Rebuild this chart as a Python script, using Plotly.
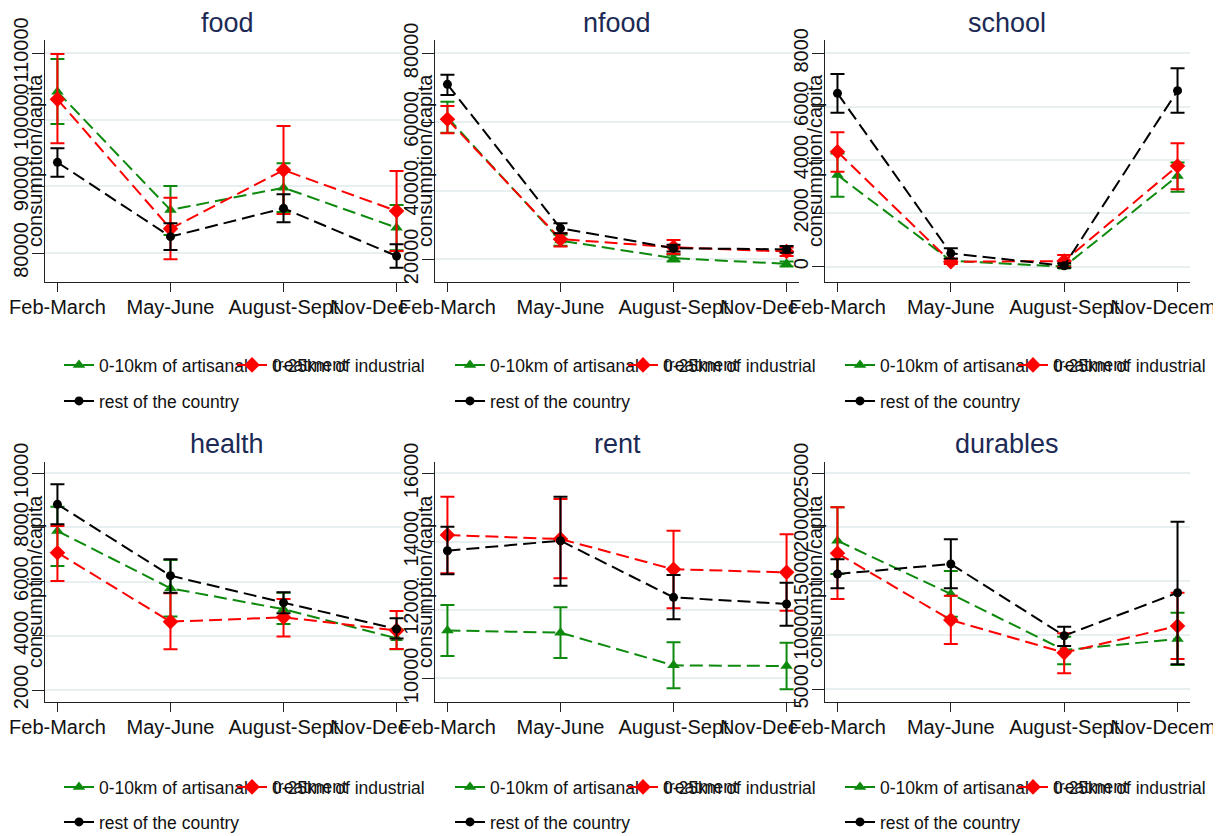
import plotly.graph_objects as go

# ---------------- data ----------------
periods = ["Feb-March", "May-June", "August-Sept", "Nov-December"]
xpos = [0, 1, 2, 3]
panel_titles = ["food", "nfood", "school", "health", "rent", "durables"]
series_names = ["0-10km of artisanal", "0-25km of industrial", "rest of the country"]
extra_label = "treatment"
ytitle = "consumption/capita"

# food
food_green = [104200, 86450, 89800, 83800]
food_green_hi = [109100, 90050, 93450, 87200]
food_green_lo = [99350, 82700, 86150, 80400]
food_red = [103050, 83650, 92450, 86300]
food_red_hi = [109850, 88300, 99050, 92300]
food_red_lo = [96450, 79050, 85850, 80300]
food_black = [93600, 82450, 86700, 79550]
food_black_hi = [95700, 84450, 88800, 81300]
food_black_lo = [91450, 80450, 84600, 77800]
food_ticks = [80000, 90000, 100000, 110000]

# nfood
nfood_green = [61380, 25470, 20350, 18690]
nfood_green_hi = [65920, 27130, 21310, 19380]
nfood_green_lo = [56900, 23930, 19380, 17900]
nfood_red = [60795, 25875, 23550, 22270]
nfood_red_hi = [64660, 27620, 25670, 23430]
nfood_red_lo = [56720, 23720, 21600, 21000]
nfood_black = [70980, 29075, 23255, 22900]
nfood_black_hi = [73770, 30530, 24220, 23900]
nfood_black_lo = [67870, 27620, 22270, 21900]
nfood_ticks = [20000, 40000, 60000, 80000]

# school
school_green = [3435, 225, 0, 3400]
school_green_hi = [4245, 285, 40, 3910]
school_green_lo = [2625, 165, -40, 2810]
school_red = [4310, 185, 210, 3775]
school_red_hi = [5040, 275, 435, 4625]
school_red_lo = [3560, 100, 0, 2900]
school_black = [6500, 500, 35, 6600]
school_black_hi = [7225, 690, 125, 7440]
school_black_lo = [5775, 310, -40, 5775]
school_ticks = [0, 2000, 4000, 6000, 8000]

# health
health_green = [7871, 5756, 4982, 3911]
health_green_hi = [8768, 6800, 5594, 4244]
health_green_lo = [6580, 4710, 4440, 3506]
health_red = [7070, 4524, 4686, 4200]
health_red_hi = [8055, 5572, 5362, 4919]
health_red_lo = [6026, 3506, 3971, 3517]
health_black = [8856, 6221, 5226, 4250]
health_black_hi = [9594, 6827, 5609, 4650]
health_black_lo = [8118, 5594, 4834, 3900]
health_ticks = [2000, 4000, 6000, 8000, 10000]

# rent
rent_green = [11400, 11335, 10380, 10360]
rent_green_hi = [12145, 12078, 11053, 11041]
rent_green_lo = [10652, 10594, 9707, 9678]
rent_red = [14194, 14077, 13190, 13102]
rent_red_hi = [15316, 15248, 14320, 14214]
rent_red_lo = [13073, 12927, 12048, 11979]
rent_black = [13735, 14027, 12370, 12175]
rent_black_hi = [14437, 15316, 13023, 12798]
rent_black_lo = [13044, 12710, 11727, 11540]
rent_ticks = [10000, 12000, 14000, 16000]

# durables
durables_green = [18760, 13823, 8637, 9656]
durables_green_hi = [21850, 15953, 9870, 12092]
durables_green_lo = [15675, 11721, 7313, 7248]
durables_red = [17592, 11415, 8390, 10860]
durables_red_hi = [21850, 13666, 10184, 13944]
durables_red_lo = [13360, 9193, 6480, 7804]
durables_black = [15675, 16601, 9963, 13944]
durables_black_hi = [17036, 18889, 10801, 20519]
durables_black_lo = [14351, 14351, 9008, 7313]
durables_ticks = [5000, 10000, 15000, 20000, 25000]

panel_data = {
    "food": [(food_green, food_green_hi, food_green_lo), (food_red, food_red_hi, food_red_lo),
             (food_black, food_black_hi, food_black_lo), food_ticks],
    "nfood": [(nfood_green, nfood_green_hi, nfood_green_lo), (nfood_red, nfood_red_hi, nfood_red_lo),
              (nfood_black, nfood_black_hi, nfood_black_lo), nfood_ticks],
    "school": [(school_green, school_green_hi, school_green_lo), (school_red, school_red_hi, school_red_lo),
               (school_black, school_black_hi, school_black_lo), school_ticks],
    "health": [(health_green, health_green_hi, health_green_lo), (health_red, health_red_hi, health_red_lo),
               (health_black, health_black_hi, health_black_lo), health_ticks],
    "rent": [(rent_green, rent_green_hi, rent_green_lo), (rent_red, rent_red_hi, rent_red_lo),
             (rent_black, rent_black_hi, rent_black_lo), rent_ticks],
    "durables": [(durables_green, durables_green_hi, durables_green_lo),
                 (durables_red, durables_red_hi, durables_red_lo),
                 (durables_black, durables_black_hi, durables_black_lo), durables_ticks],
}

# ---------------- styling / layout geometry ----------------
PAGE_W, PAGE_H = 1221, 836
OFF = 8  # default page body margin
W, H = PAGE_W - OFF, PAGE_H - OFF
FONT = "Liberation Sans, Arial, sans-serif"
colors = ["#0d8a0d", "#ff0000", "#000000"]
symbols = ["triangle-up", "diamond", "circle"]
msizes = [11, 12, 9]

col_px = [(45, 409), (435, 799), (825, 1190)]
row_px = [(40, 282), (462, 702)]
yranges = {
    "food": [75650, 111950],
    "nfood": [13400, 83900],
    "school": [-575, 8500],
    "health": [1557, 10418],
    "rent": [9307, 16331],
    "durables": [3824, 26046],
}
legend_rows = [(365, 401), (787, 822)]
feb_px = [57, 448, 838]


def fx(p):
    return (p - OFF) / W


def fy(p):
    return 1 - (p - OFF) / H


fig = go.Figure()
annotations = []
layout_extra = {}

for i, name in enumerate(panel_titles):
    r, c = divmod(i, 3)
    green, red, black, ticks = panel_data[name]
    ax = "" if i == 0 else str(i + 1)
    leg_ids = []
    for k in range(3):
        n = 3 * i + k + 1
        leg_ids.append("legend" if n == 1 else f"legend{n}")
    for k, (vals, hi, lo) in enumerate([green, red, black]):
        fig.add_trace(go.Scatter(
            x=xpos, y=vals, name=series_names[k],
            mode="lines+markers",
            line=dict(color=colors[k], width=2, dash="13px,6px"),
            marker=dict(symbol=symbols[k], size=msizes[k], color=colors[k]),
            error_y=dict(type="data", symmetric=False,
                         array=[h - v for h, v in zip(hi, vals)],
                         arrayminus=[v - l for v, l in zip(vals, lo)],
                         color=colors[k], thickness=2, width=7),
            xaxis="x" + ax, yaxis="y" + ax,
            legend=leg_ids[k],
        ))
    x0, x1 = col_px[c]
    y0, y1 = row_px[r]
    ticktext = list(periods)
    if c < 2:
        ticktext[3] = "Nov-Dec" + "\u00a0" * 10
    layout_extra["xaxis" + ax] = dict(
        domain=[fx(x0), fx(x1)], range=[-0.11, 3.11], anchor="y" + ax,
        tickvals=xpos, ticktext=ticktext, tickangle=0, automargin=False,
        ticklabeloverflow="allow", ticklabelstandoff=-2,
        showgrid=False, zeroline=False,
        showline=True, linecolor="#222", linewidth=1.3,
        ticks="outside", ticklen=9, tickwidth=1.3, tickcolor="#222",
        tickfont=dict(family=FONT, size=20, color="#111"),
    )
    layout_extra["yaxis" + ax] = dict(
        domain=[fy(y1), fy(y0)], range=yranges[name], anchor="x" + ax,
        tickvals=ticks, tickformat="d", tickangle=-90, automargin=False,
        ticklabeloverflow="allow", ticklabelstandoff=-4,
        showgrid=True, gridcolor="#e8eff1", gridwidth=2, zeroline=False,
        showline=True, linecolor="#222", linewidth=1.3,
        ticks="outside", ticklen=12, tickwidth=1.3, tickcolor="#222",
        tickfont=dict(family=FONT, size=20, color="#111"),
    )
    # panel title
    annotations.append(dict(
        text=name, x=fx((x0 + x1) / 2), y=fy(23 if r == 0 else 444),
        xref="paper", yref="paper", xanchor="center", yanchor="middle",
        showarrow=False, font=dict(family=FONT, size=27, color="#1c2a55"),
    ))
    # y-axis title
    annotations.append(dict(
        text=ytitle, textangle=-90, x=fx(x0 - 10), y=fy((y0 + y1) / 2),
        xref="paper", yref="paper", xanchor="center", yanchor="middle",
        showarrow=False, font=dict(family=FONT, size=20, color="#111"),
    ))
    # legends
    row1, row2 = legend_rows[r]
    lx = feb_px[c] + 2
    legpos = [(lx, row1), (lx + 173, row1), (lx, row2)]
    for k in range(3):
        px_, py_ = legpos[k]
        layout_extra[leg_ids[k]] = dict(
            x=fx(px_), y=fy(py_), xanchor="left", yanchor="middle",
            xref="paper", yref="paper", bgcolor="rgba(0,0,0,0)",
            borderwidth=0, font=dict(family=FONT, size=17.5, color="#111"),
            itemwidth=30,
        )
    annotations.append(dict(
        text=extra_label, x=fx(lx + 173 + 39), y=fy(row1),
        xref="paper", yref="paper", xanchor="left", yanchor="middle",
        showarrow=False, font=dict(family=FONT, size=17.5, color="#111"),
    ))

fig.update_layout(
    width=W, height=H, margin=dict(l=0, r=0, t=0, b=0, autoexpand=False),
    paper_bgcolor="white", plot_bgcolor="white",
    showlegend=True, annotations=annotations, **layout_extra,
)

fig.write_html("out.html")
